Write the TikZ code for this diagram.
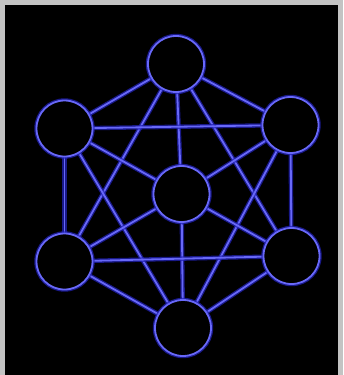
\documentclass[tikz,border=0pt]{standalone}
\usetikzlibrary{backgrounds}
\definecolor{frame}{HTML}{C3C3C3}
\definecolor{glow}{HTML}{2222B8}
\definecolor{core}{HTML}{6868F8}
\tikzset{
  ball/.style={circle, minimum size=56pt, inner sep=0pt, fill=black, draw=core, line width=1.8pt,
    preaction={draw=glow, line width=4.4pt, opacity=0.75}},
  link/.style={draw=core, line width=1.8pt, preaction={draw=glow, line width=4.4pt, opacity=0.75}}
}
\begin{document}
\begin{tikzpicture}[x=1pt,y=-1pt]
\useasboundingbox (0,0) rectangle (343,375);
\node[ball] (T) at (176,64) {};
\node[ball] (UL) at (64.5,128.5) {};
\node[ball] (UR) at (290.5,125) {};
\node[ball] (C) at (181.5,194) {};
\node[ball] (LL) at (64.5,261.5) {};
\node[ball] (LR) at (291.5,256) {};
\node[ball] (B) at (183,328) {};
\begin{scope}[on background layer]
\fill[frame] (0,0) rectangle (343,375);
\fill[black] (5,5) rectangle (338,375);
\foreach \a/\b in {T/UL,T/UR,T/LL,T/LR,T/C,UL/UR,UL/C,UL/LL,UL/B,UR/C,UR/LR,UR/B,C/LL,C/LR,C/B,LL/LR,LL/B,LR/B}
  \path[link] (\a) -- (\b);
\end{scope}
\end{tikzpicture}
\end{document}
